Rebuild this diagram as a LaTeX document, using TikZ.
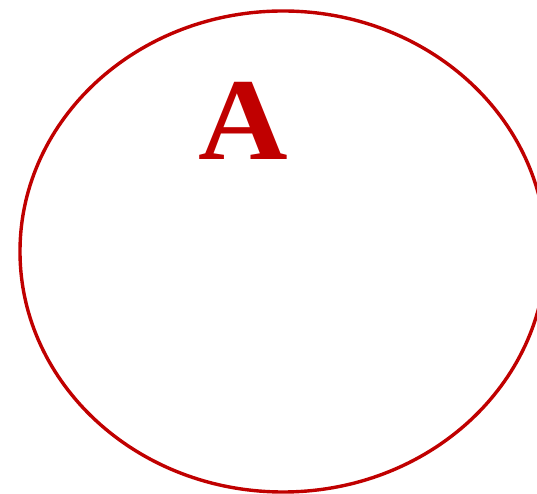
\documentclass[tikz,border=0pt]{standalone}
\usepackage{fontspec}
\setmainfont{Liberation Serif}
\usepackage{xcolor}
\usepackage{tikz}
\definecolor{setred}{HTML}{C00000}

\begin{document}
\begin{tikzpicture}[
  x=1pt, y=1pt,
  setline/.style={draw=setred, line width=3.4pt},
  setlabel/.style={text=setred, inner sep=0pt, font=\fontsize{117}{117}\selectfont\bfseries},
]
\useasboundingbox (0,0) rectangle (537,494);
\clip (0,0) rectangle (537,494);
\draw[setline] (283,242.5) ellipse [x radius=263, y radius=240.5];
\node[setlabel] (lblA) at (243,373) {\scalebox{1.06}[1]{A}};
\end{tikzpicture}
\end{document}
